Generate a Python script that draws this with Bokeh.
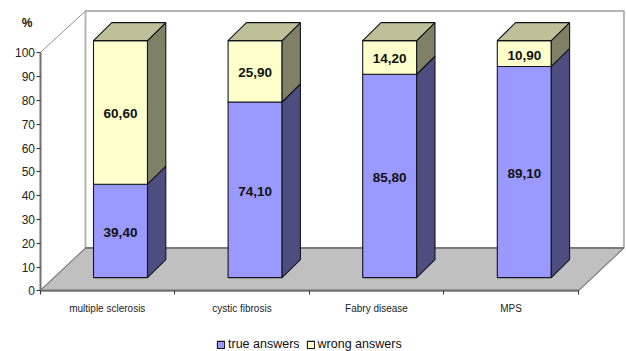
from bokeh.core.properties import value
from bokeh.embed import file_html
from bokeh.models import FixedTicker, Label, Legend, LegendItem, LinearAxis, Range1d
from bokeh.plotting import figure
from bokeh.resources import INLINE

# Chart data
categories = ["multiple sclerosis", "cystic fibrosis", "Fabry disease", "MPS"]
true_answers = [39.4, 74.1, 85.8, 89.1]
wrong_answers = [60.6, 25.9, 14.2, 10.9]
y_ticks = [0, 10, 20, 30, 40, 50, 60, 70, 80, 90, 100]

# Pixel scale of the plotting frame and the oblique depth of the 3D box
PX_X = 134.6
PX_Y = 2.38
ORIGIN_X, ORIGIN_Y = 39.5, 290.3
WIDTH, HEIGHT = 626, 351
WALL_DX, WALL_DY = 45.5 / PX_X, 42.8 / PX_Y
BAR_OFFSET_X, BAR_OFFSET_Y = 13.2 / PX_X, 13.2 / PX_Y
BAR_HALF = 27.0 / PX_X
BAR_DX, BAR_DY = 18.3 / PX_X, 18.0 / PX_Y
HEIGHT_K = 237.0 / 238.0  # foreshortening of heights inside the box

p = figure(
    width=WIDTH, height=HEIGHT, output_backend="svg", toolbar_location=None,
    x_range=Range1d(-ORIGIN_X / PX_X, (WIDTH - ORIGIN_X) / PX_X),
    y_range=Range1d(-(HEIGHT - ORIGIN_Y) / PX_Y, ORIGIN_Y / PX_Y),
    min_border=0, x_axis_type=None, y_axis_type=None,
    outline_line_color=None, background_fill_color="white",
)
p.grid.visible = False

# Back wall and floor
top = 100 * HEIGHT_K + WALL_DY
p.patch([WALL_DX, 4 + WALL_DX, 4 + WALL_DX, WALL_DX], [WALL_DY, WALL_DY, top, top],
        fill_color="white", line_color="#b4b4b4", line_width=2)
p.patch([0, 4, 4 + WALL_DX, WALL_DX], [0, 0, WALL_DY, WALL_DY],
        fill_color="#c0c0c0", line_color="#808080", line_width=1.2)
p.line([WALL_DX, 4 + WALL_DX], [WALL_DY, WALL_DY], line_color="#7a7a7a", line_width=2)
p.line([0, WALL_DX], [100, top], line_color="#909090", line_width=1)


def box(i, low, high):
    """Return the front, side and top outlines of one stacked segment."""
    x0 = i + 0.5 + BAR_OFFSET_X - BAR_HALF
    x1 = i + 0.5 + BAR_OFFSET_X + BAR_HALF
    y0 = BAR_OFFSET_Y + low * HEIGHT_K
    y1 = BAR_OFFSET_Y + high * HEIGHT_K
    front = ([x0, x1, x1, x0], [y0, y0, y1, y1])
    side = ([x1, x1 + BAR_DX, x1 + BAR_DX, x1], [y0, y0 + BAR_DY, y1 + BAR_DY, y1])
    lid = ([x0, x1, x1 + BAR_DX, x0 + BAR_DX], [y1, y1, y1 + BAR_DY, y1 + BAR_DY])
    return front, side, lid


def add_faces(faces, color):
    xs = [f[0] for f in faces]
    ys = [f[1] for f in faces]
    return p.patches(xs, ys, fill_color=color, line_color="#14141e", line_width=1.1)


true_boxes = [box(i, 0, v) for i, v in enumerate(true_answers)]
wrong_boxes = [box(i, t, t + w) for i, (t, w) in enumerate(zip(true_answers, wrong_answers))]

true_render = add_faces([b[0] for b in true_boxes], "#9999ff")
add_faces([b[1] for b in true_boxes], "#4d4d80")
wrong_render = add_faces([b[0] for b in wrong_boxes], "#ffffcc")
add_faces([b[1] for b in wrong_boxes], "#808066")
add_faces([b[2] for b in wrong_boxes], "#bfbf99")

# Value labels centred on the front faces
label_x, label_y, label_text = [], [], []
for i, (t, w) in enumerate(zip(true_answers, wrong_answers)):
    cx = i + 0.5 + BAR_OFFSET_X
    for low, v in ((0, t), (t, w)):
        label_x.append(cx)
        label_y.append(BAR_OFFSET_Y + (low + v / 2) * HEIGHT_K - 1.5 / PX_Y)
        label_text.append(f"{v:.2f}".replace(".", ","))
p.text(label_x, label_y, text=label_text, text_align="center", text_baseline="middle",
       text_font=value("Liberation Sans"), text_font_style="bold",
       text_font_size="13.5px", text_color="#111111")

# Value axis, pinned to the left edge of the floor
y_axis = LinearAxis(ticker=FixedTicker(ticks=y_ticks), bounds=(0, 100), fixed_location=0)
y_axis.axis_line_color = "#707070"
y_axis.axis_line_width = 2
y_axis.major_tick_line_color = "#333333"
y_axis.major_tick_out = 4
y_axis.major_tick_in = 0
y_axis.minor_tick_line_color = None
y_axis.major_label_text_font = "Liberation Sans"
y_axis.major_label_text_font_size = "12px"
y_axis.major_label_text_color = "#222222"
y_axis.major_label_standoff = 1
p.add_layout(y_axis, "left")

# Category axis: labels sit between the tick marks
mids = [i + 0.5 for i in range(len(categories))]
x_axis = LinearAxis(
    ticker=FixedTicker(ticks=mids, minor_ticks=list(range(len(categories) + 1))),
    bounds=(0, 4), major_label_overrides=dict(zip(mids, categories)), fixed_location=0,
)
x_axis.axis_line_color = "#707070"
x_axis.axis_line_width = 2
x_axis.major_tick_line_color = None
x_axis.minor_tick_line_color = "#333333"
x_axis.minor_tick_out = 4
x_axis.minor_tick_in = 0
x_axis.major_label_text_font = "Liberation Sans"
x_axis.major_label_text_font_size = "10px"
x_axis.major_label_text_color = "#222222"
x_axis.major_label_standoff = 6
p.add_layout(x_axis, "below")

p.add_layout(Label(x=-13 / PX_X, y=(ORIGIN_Y - 22) / PX_Y, text="%", text_align="center",
                   text_baseline="middle", text_font="Liberation Sans", text_font_style="bold",
                   text_font_size="12px", text_color="#111111"))

legend = Legend(
    items=[LegendItem(label="true answers", renderers=[true_render]),
           LegendItem(label="wrong answers", renderers=[wrong_render])],
    orientation="horizontal", location=(216, 0), border_line_color=None,
    background_fill_alpha=0, glyph_width=9, glyph_height=9, label_text_font="Liberation Sans",
    label_text_font_size="12.5px", label_text_color="#111111", spacing=6, label_standoff=3,
    margin=0, padding=0,
)
p.add_layout(legend, "center")

open("out.html", "w").write(file_html(p, INLINE))
